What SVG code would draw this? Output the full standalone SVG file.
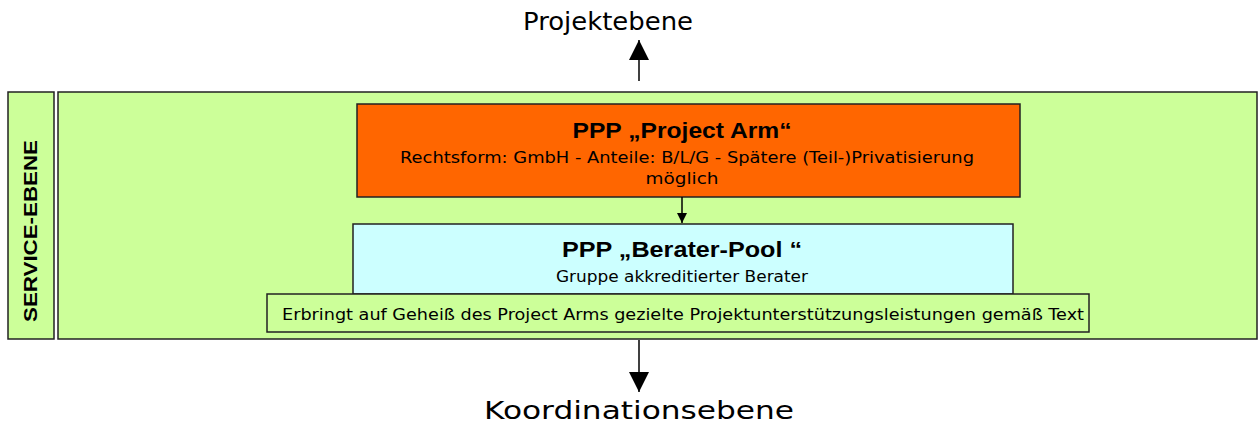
<svg xmlns="http://www.w3.org/2000/svg" width="1259" height="426" viewBox="0 0 1259 426">
<style>
.box{stroke:#222;stroke-width:1.5}
.g{fill:#CCFF99}
.lbl{font-family:"DejaVu Sans","Liberation Sans",sans-serif;fill:#000}
.b{font-family:"Liberation Sans",Arial,sans-serif;font-weight:bold;fill:#000}
.ln{stroke:#000;stroke-width:1.5;fill:none}
</style>
<defs>
<marker id="ah" markerWidth="10" markerHeight="10" refX="10" refY="5" orient="auto" markerUnits="userSpaceOnUse" viewBox="0 0 10 10">
<path d="M0,0 L10,5 L0,10 Z" fill="#000"/>
</marker>
<marker id="ahL" markerWidth="20" markerHeight="20" refX="20" refY="10" orient="auto" markerUnits="userSpaceOnUse" viewBox="0 0 20 20">
<path d="M0,0 L20,10 L0,20 Z" fill="#000"/>
</marker>
</defs>
<rect width="1259" height="426" fill="#fff"/>
<g id="service-label">
<rect class="box g" x="8" y="92" width="46" height="247"/>
<text class="b" font-size="18" text-anchor="middle" transform="translate(37,231) rotate(-90)" textLength="182" lengthAdjust="spacingAndGlyphs">SERVICE-EBENE</text>
</g>
<g id="service-area">
<rect class="box g" x="58" y="92" width="1199" height="247"/>
</g>
<g id="project-arm">
<rect class="box" fill="#FF6600" x="357" y="104" width="663" height="93"/>
<text class="b" font-size="22" x="682" y="138" text-anchor="middle" textLength="219" lengthAdjust="spacingAndGlyphs">PPP „Project Arm“</text>
<text class="lbl" font-size="16.5" x="687" y="163" text-anchor="middle" textLength="574" lengthAdjust="spacingAndGlyphs">Rechtsform: GmbH - Anteile: B/L/G - Spätere (Teil-)Privatisierung</text>
<text class="lbl" font-size="16.5" x="682" y="184" text-anchor="middle" textLength="73" lengthAdjust="spacingAndGlyphs">möglich</text>
</g>
<g id="berater-pool">
<rect class="box" fill="#CCFFFF" x="353" y="224" width="660" height="70"/>
<text class="b" font-size="22" x="682" y="257" text-anchor="middle" textLength="240" lengthAdjust="spacingAndGlyphs">PPP „Berater-Pool “</text>
<text class="lbl" font-size="16.5" x="682" y="282" text-anchor="middle" textLength="252" lengthAdjust="spacingAndGlyphs">Gruppe akkreditierter Berater</text>
</g>
<g id="leistungen">
<rect class="box g" x="267" y="294" width="822" height="38"/>
<text class="lbl" font-size="16.5" x="683" y="320" text-anchor="middle" textLength="802" lengthAdjust="spacingAndGlyphs">Erbringt auf Geheiß des Project Arms gezielte Projektunterstützungsleistungen gemäß Text</text>
</g>
<g id="projektebene">
<text class="lbl" font-size="24" x="608" y="30" text-anchor="middle" textLength="170" lengthAdjust="spacingAndGlyphs">Projektebene</text>
</g>
<g id="koordinationsebene">
<text class="lbl" font-size="24" x="639" y="419" text-anchor="middle" textLength="310" lengthAdjust="spacingAndGlyphs">Koordinationsebene</text>
</g>
<g id="connectors">
<line class="ln" x1="682" y1="197" x2="682" y2="223" marker-end="url(#ah)"/>
<line class="ln" x1="639" y1="81" x2="639" y2="40" marker-end="url(#ahL)"/>
<line class="ln" x1="639" y1="340" x2="639" y2="392" marker-end="url(#ahL)"/>
</g>
</svg>
